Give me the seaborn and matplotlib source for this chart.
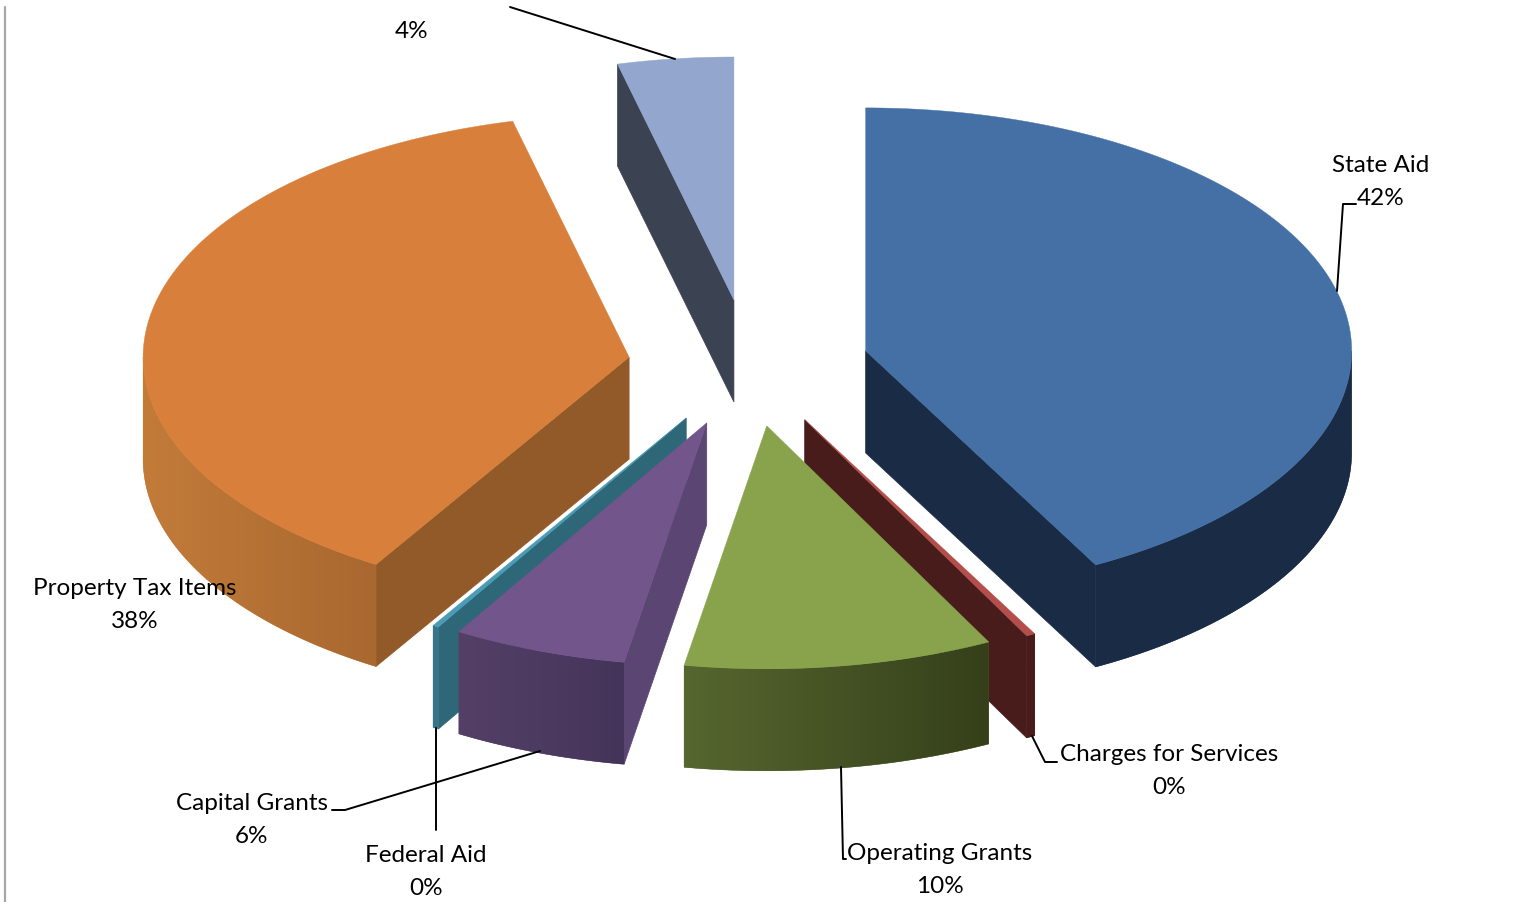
import numpy as np
import matplotlib
matplotlib.use("Agg")
import matplotlib.pyplot as plt
import seaborn as sns

# ----------------------------------
# Data (clockwise from 12 o'clock)
# ----------------------------------

names = ["State Aid", "Charges for Services", "Operating Grants",
         "Capital Grants", "Federal Aid", "Property Tax Items", ""]
values = [42.15, 0.3, 10.27, 5.8, 0.2, 37.43, 3.85]
pct_labels = ["42%", "0%", "10%", "6%", "0%", "38%", "4%"]

top_colors = ["#4570A6", "#B34E4B", "#88A34C", "#71558B", "#4A9BB5", "#D8803B", "#93A7CE"]
edge_colors = ["#1A2C45", "#471C1A", "#56662F", "#5B4673", "#2E6878", "#925A29", "#3B4252"]
rim_left = ["#1A2C45", "#471C1A", "#56662F", "#544066", "#37748A", "#C27B39", "#3B4252"]
rim_right = ["#1A2C45", "#471C1A", "#35401A", "#45345A", "#37748A", "#A96830", "#3B4252"]

# back to front
draw_order = [6, 5, 4, 3, 1, 2, 0]

label_pos = [(1381, 166), (1169, 755), (940, 854), (252, 804), (426, 856), (135, 589), (412, 31)]
leaders = [
    [(1337, 292), (1343, 205), (1356, 205)],
    [(1032, 737), (1045, 763), (1057, 763)],
    [(841, 768), (843, 860), (846, 860)],
    [(540, 752), (345, 811), (332, 811)],
    [(436, 729), (436, 831)],
    [(510, 8), (675, 60)],
]

# ----------------------------------
# Pie geometry (pixels)
# ----------------------------------

cx, cy = 748.5, 368.5
rx, ry = 486, 243
explode_x = 120.8
explode_back, explode_front = 68, 59
depth = 102
line_gap = 33

sns.set_theme(style="white")
plt.rcParams["font.family"] = ["Lato", "DejaVu Sans"]

fig, ax = plt.subplots(figsize=(15.2, 9.03), dpi=100)
ax.set_position([0, 0, 1, 1])
ax.axis("off")


def rim_xy(t, ax0, ay0):
    return ax0 + rx * np.sin(t), ay0 - ry * np.cos(t)


def draw_slice(i, t0, t1):
    mid = (t0 + t1) / 2
    explode_y = explode_back if np.cos(mid) > 0 else explode_front
    ax0 = cx + explode_x * np.sin(mid)
    ay0 = cy - explode_y * np.cos(mid)

    # radial walls
    for t, visible in [(t0, np.sin(t0) < -1e-6), (t1, np.sin(t1) > 1e-6)]:
        if visible:
            x, y = rim_xy(t, ax0, ay0)
            ax.fill([ax0, x, x, ax0], [ay0, y, y + depth, ay0 + depth],
                    color=edge_colors[i], lw=0.5, zorder=2)

    # outer wall, only the front half of the rim shows
    a, b = max(t0, np.pi / 2), min(t1, 3 * np.pi / 2)
    if b > a:
        ts = np.linspace(a, b, 120)
        xs, ys = rim_xy(ts, ax0, ay0)
        wall = ax.fill(np.r_[xs, xs[::-1]], np.r_[ys, ys[::-1] + depth],
                       color=rim_left[i], lw=0.3, zorder=2)[0]
        shades = np.array(sns.blend_palette([rim_left[i], rim_right[i]], 64))
        img = ax.imshow(shades[None, :, :],
                        extent=(xs.min(), xs.max(), ys.max() + depth, ys.min()),
                        aspect="auto", interpolation="bilinear", zorder=2)
        img.set_clip_path(wall)

    # top face
    ts = np.linspace(t0, t1, 200)
    xs, ys = rim_xy(ts, ax0, ay0)
    ax.fill(np.r_[ax0, xs], np.r_[ay0, ys], color=top_colors[i], lw=0.3, zorder=2)


# ----------------------------------
# Slices
# ----------------------------------

edges = np.r_[0, np.cumsum(values)] / sum(values) * 2 * np.pi

for i in draw_order:
    draw_slice(i, edges[i], edges[i + 1])

# ----------------------------------
# Labels and leader lines
# ----------------------------------

for name, pct, (x, y) in zip(names, pct_labels, label_pos):
    if name:
        ax.text(x, y, name, ha="center", va="center", fontsize=17.5, color="black", zorder=4)
        ax.text(x, y + line_gap, pct, ha="center", va="center", fontsize=17.5, color="black", zorder=4)
    else:
        ax.text(x, y, pct, ha="center", va="center", fontsize=17.5, color="black", zorder=4)

for pts in leaders:
    ax.plot(*zip(*pts), color="black", lw=1.4, zorder=3)

# grey frame edge on the left
ax.plot([5, 5], [8, 903], color="#A6A6A6", lw=1.6, zorder=1)

ax.set_xlim(0, 1520)
ax.set_ylim(903, 0)

fig.savefig("out.png", dpi=100)
